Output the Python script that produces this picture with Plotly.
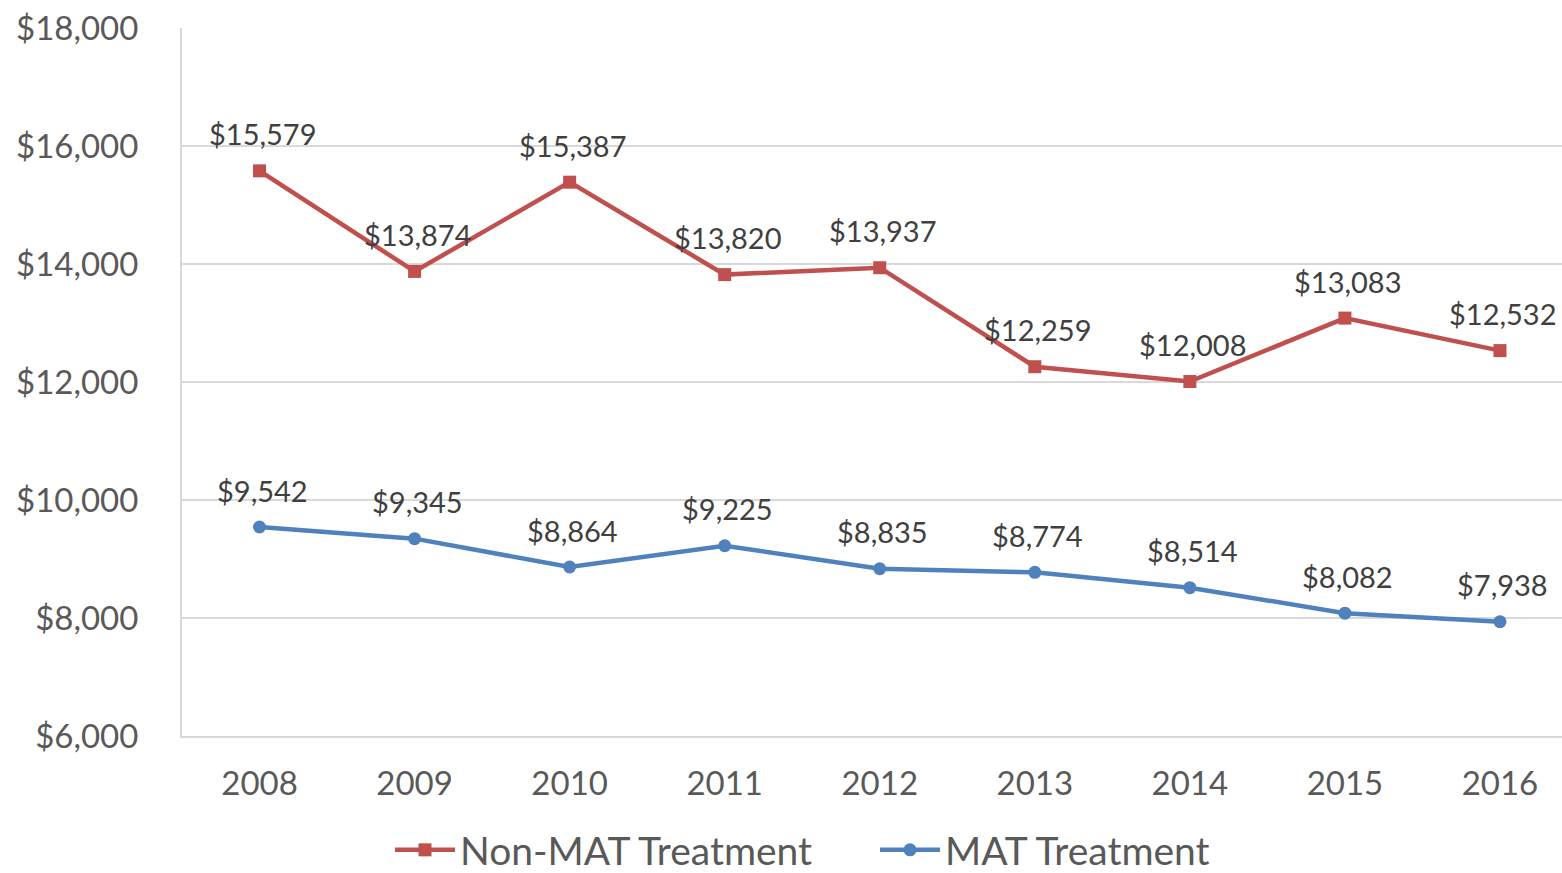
import plotly.graph_objects as go

years = ["2008", "2009", "2010", "2011", "2012", "2013", "2014", "2015", "2016"]
non_mat = [15579, 13874, 15387, 13820, 13937, 12259, 12008, 13083, 12532]
mat = [9542, 9345, 8864, 9225, 8835, 8774, 8514, 8082, 7938]
y_ticks = [6000, 8000, 10000, 12000, 14000, 16000, 18000]

FONT = "Lato"
RED = "#C0504D"
BLUE = "#4F81BD"
fig = go.Figure()
fig.add_trace(go.Scatter(
    x=years, y=non_mat, name="Non-MAT Treatment", mode="lines+markers",
    line=dict(color=RED, width=4.5),
    marker=dict(symbol="square", size=13, color=RED),
))
fig.add_trace(go.Scatter(
    x=years, y=mat, name="MAT Treatment", mode="lines+markers",
    line=dict(color=BLUE, width=4.5),
    marker=dict(symbol="circle", size=13, color=BLUE),
))
for series in (non_mat, mat):
    for i, v in enumerate(series):
        fig.add_annotation(x=i, y=v, xref="x", yref="y", text=f"${v:,}", showarrow=False,
                           xanchor="center", yanchor="middle", yshift=37, xshift=3,
                           font=dict(family=FONT, size=29, color="#404040"))
fig.update_layout(
    width=1562, height=873,
    margin=dict(l=182, r=0, t=28, b=137),
    paper_bgcolor="white", plot_bgcolor="white",
    font=dict(family=FONT, color="#595959"),
    showlegend=True,
    legend=dict(orientation="h", xref="container", yref="container",
                x=390 / 1562, xanchor="left", y=(873 - 850) / 873, yanchor="middle",
                font=dict(family=FONT, size=39, color="#595959"), itemwidth=60,
                entrywidth=410, entrywidthmode="pixels"),
    xaxis=dict(type="category", range=[-0.5, 8.4], showgrid=False, automargin=False,
               showline=True, linecolor="#D9D9D9", linewidth=2,
               tickfont=dict(family=FONT, size=33, color="#595959"),
               ticks="", ticklabelstandoff=17),
    yaxis=dict(range=[6000, 18000], tickvals=y_ticks, automargin=False,
               ticktext=[f"${v:,}" for v in y_ticks],
               showgrid=True, gridcolor="#D9D9D9", gridwidth=2,
               showline=True, linecolor="#D9D9D9", linewidth=2,
               zeroline=False,
               tickfont=dict(family=FONT, size=33, color="#595959"),
               ticks="", ticklabelstandoff=35),
)
fig.write_html("out.html", config={"displayModeBar": False},
               post_script="document.body.style.margin='0';document.body.style.overflow='hidden';")
